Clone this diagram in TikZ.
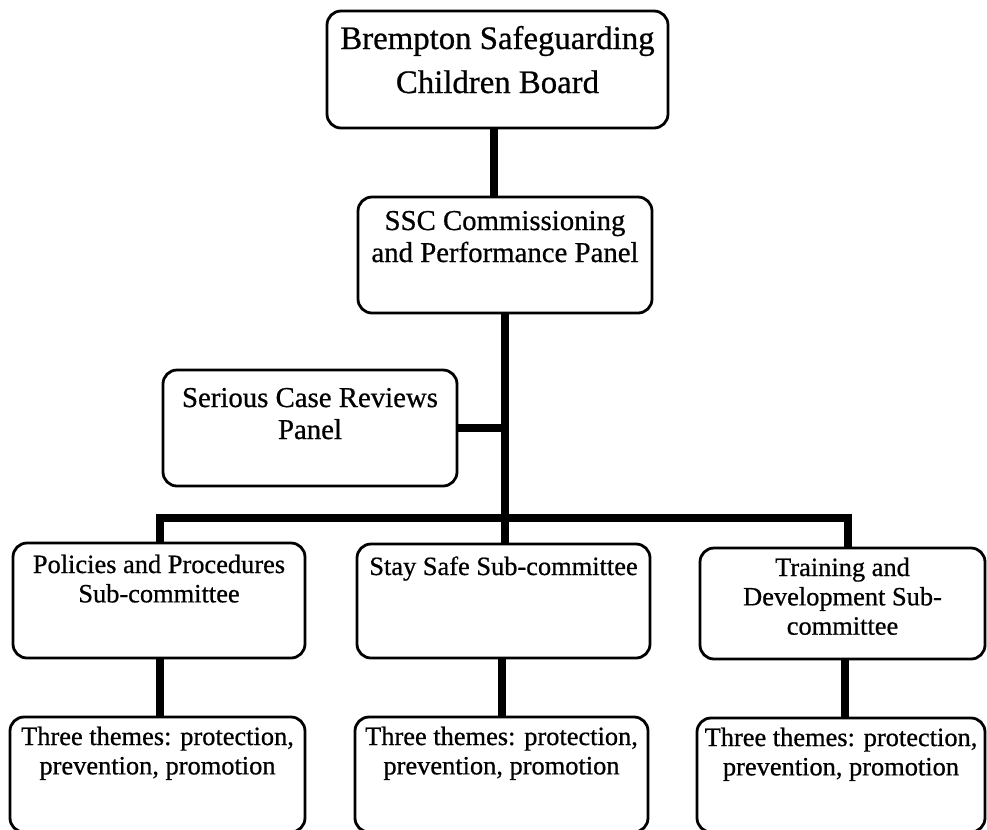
\documentclass[tikz,border=0pt]{standalone}
\usepackage{fontspec}
\setmainfont{Liberation Serif}[FakeBold=0.7]
\newdimen\pxu \pxu=0.75pt
% box contents: width, height, font size, line skip, first baseline, text
\newcommand{\boxtext}[6]{%
  \parbox[c][#2\pxu][t]{#1\pxu}{\centering\fontsize{#3}{#4}\selectfont\rule{0pt}{#5\pxu}#6}}
\tikzset{
  orgbox/.style={draw, line width=2.1pt, rounded corners=10.5pt, inner sep=0pt, outer sep=0pt},
  conn/.style={line width=5.4pt, line join=miter, line cap=butt}
}
\begin{document}
\begin{tikzpicture}[x=0.75pt, y=-0.75pt]
\useasboundingbox (0,0) rectangle (987,829);

\node[orgbox] (board) at (497.5,69.5) {\boxtext{341}{117}{24.6pt}{33pt}{38}{Brempton Safeguarding\\Children Board}};
\node[orgbox] (ssc) at (505,255) {\boxtext{294}{116}{21.6pt}{24pt}{33}{SSC Commissioning\\and Performance Panel}};
\node[orgbox] (scr) at (310,428) {\boxtext{294}{116}{21.6pt}{24pt}{37}{Serious Case Reviews\\Panel}};

\node[orgbox] (pp) at (159,600.5) {\boxtext{292}{115}{19.8pt}{22pt}{30}{Policies and Procedures\\Sub-committee}};
\node[orgbox] (ss) at (503.5,601) {\boxtext{293}{114}{19.8pt}{22pt}{31}{Stay Safe Sub-committee}};
\node[orgbox] (td) at (842.5,603.5) {\boxtext{285}{111}{19.8pt}{22pt}{28}{Training and\\Development Sub-\\committee}};

\node[orgbox] (th1) at (157.5,774.5) {\boxtext{295}{115}{19.8pt}{22pt}{28}{Three themes: protection,\\prevention, promotion}};
\node[orgbox] (th2) at (501.5,774.5) {\boxtext{293}{115}{19.8pt}{22pt}{28}{Three themes: protection,\\prevention, promotion}};
\node[orgbox] (th3) at (841,775) {\boxtext{288}{114}{19.8pt}{22pt}{28}{Three themes: protection,\\prevention, promotion}};

% connector positions
\coordinate (xa) at (494,0);
\coordinate (xm) at (505,0);
\coordinate (busy) at (0,518);
\coordinate (x1) at (160,0);
\coordinate (x3) at (848,0);
\coordinate (xb2) at (502,0);
\coordinate (xb3) at (845,0);

\draw[conn] (board.south -| xa) -- (ssc.north -| xa);
\draw[conn] (ssc.south -| xm) -- (xm |- busy);
\draw[conn] (scr.east) -- (scr.east -| xm);
\draw[conn] (pp.north -| x1) -- (x1 |- busy) -- (x3 |- busy) -- (td.north -| x3);
\draw[conn] (xm |- busy) -- (ss.north -| xm);

\draw[conn] (pp.south -| x1) -- (th1.north -| x1);
\draw[conn] (ss.south -| xb2) -- (th2.north -| xb2);
\draw[conn] (td.south -| xb3) -- (th3.north -| xb3);
\end{tikzpicture}
\end{document}
